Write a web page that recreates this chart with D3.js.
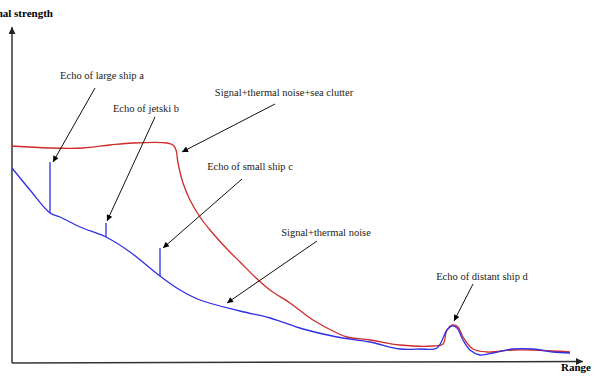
<!DOCTYPE html>
<html>
<head>
<meta charset="UTF-8">
<title>Radar echo</title>
<style>
  body { margin: 0; background: #fff; }
  text { font-family: "Liberation Serif", "DejaVu Serif", serif; }
</style>
</head>
<body>
<svg id="chart"></svg>
<script src="https://cdn.jsdelivr.net/npm/d3@7/dist/d3.min.js"></script>
<script>
const width = 600;
const height = 381;

// range (x) and signal strength (y)
const blueRange = [0, 18, 38, 48, 68, 94, 118, 148, 168, 188, 228, 258, 291, 325, 358, 388, 408, 425, 435, 440, 445, 451, 458, 468, 481, 501, 521, 541, 558];
const blueSignal = [195, 173, 150, 146, 136, 126, 111, 87, 73, 63, 52, 45, 34, 26, 21, 14, 14, 15, 33, 37, 35, 23, 13, 8, 10, 14, 14, 11, 10];

const redRange = [0, 38, 71, 98, 121, 155, 161, 164, 166, 171, 178, 188, 198, 215, 228, 243, 258, 278, 301, 325, 335, 358, 388, 421, 431, 435, 441, 446, 451, 461, 475, 501, 521, 558];
const redSignal = [217, 215, 215, 218, 220, 220, 218, 213, 200, 180, 163, 146, 133, 114, 101, 86, 73, 60, 43, 30, 26, 23, 18, 17, 19, 33, 38, 36, 26, 14, 11, 13, 13, 11];

// echo spikes on the thermal-noise curve
const spikeRange = [38, 94, 148];
const spikeTop = [201, 140, 115];

// annotations: label position and arrow from/to, in data units
const labels = [
    'Echo of large ship a',
    'Echo of jetski b',
    'Signal+thermal noise+sea clutter',
    'Echo of small ship c',
    'Signal+thermal noise',
    'Echo of distant ship d'
];
const labelX = [90, 134, 272, 238, 314, 470];
const labelY = [288, 255, 271, 197, 131, 87];
const arrowFrom = [[83, 275], [143, 246], [263, 259], [230, 184], [305, 122], [461, 79]];
const arrowTo = [[41, 201], [95, 142], [170, 211], [151, 115], [215, 60], [442, 42]];

const svg = d3.select('#chart')
    .attr('width', width)
    .attr('height', height);

const x = d3.scaleLinear().domain([0, 571]).range([12, 583]);
const y = d3.scaleLinear().domain([0, 336]).range([363, 27]);

const defs = svg.append('defs');
function marker(id, color, w, h) {
    defs.append('marker')
        .attr('id', id)
        .attr('viewBox', '0 0 10 10')
        .attr('refX', 10)
        .attr('refY', 5)
        .attr('markerUnits', 'userSpaceOnUse')
        .attr('markerWidth', w)
        .attr('markerHeight', h)
        .attr('orient', 'auto')
        .append('path')
        .attr('d', 'M0,0 L10,5 L0,10 z')
        .attr('fill', color);
}
marker('arr', '#000', 8, 6);
marker('axarr', '#222', 9, 7);

// axes
svg.append('line')
    .attr('x1', x(0)).attr('y1', y(0))
    .attr('x2', x(0)).attr('y2', y(336))
    .attr('stroke', '#333').attr('stroke-width', 1.5)
    .attr('marker-end', 'url(#axarr)');
svg.append('line')
    .attr('x1', x(0)).attr('y1', y(0))
    .attr('x2', x(571)).attr('y2', y(1.5))
    .attr('stroke', '#333').attr('stroke-width', 1.5)
    .attr('marker-end', 'url(#axarr)');

// the reference cuts this title at the left edge
svg.append('text')
    .attr('x', 53).attr('y', 17)
    .attr('text-anchor', 'end')
    .attr('font-size', 11).attr('font-weight', 'bold')
    .text('Signal strength');
svg.append('text')
    .attr('x', 591).attr('y', 371)
    .attr('text-anchor', 'end')
    .attr('font-size', 11).attr('font-weight', 'bold')
    .text('Range');

const line = d3.line()
    .x(d => x(d[0]))
    .y(d => y(d[1]))
    .curve(d3.curveCatmullRom.alpha(0.5));

svg.append('path')
    .datum(redRange.map((r, i) => [r, redSignal[i]]))
    .attr('d', line)
    .attr('fill', 'none')
    .attr('stroke', '#d02a2a')
    .attr('stroke-width', 1.3);

svg.append('path')
    .datum(blueRange.map((r, i) => [r, blueSignal[i]]))
    .attr('d', line)
    .attr('fill', 'none')
    .attr('stroke', '#2f2fe6')
    .attr('stroke-width', 1.3);

svg.selectAll('.spike')
    .data(spikeRange)
    .enter()
    .append('line')
    .attr('class', 'spike')
    .attr('x1', d => x(d))
    .attr('x2', d => x(d))
    .attr('y1', d => y(blueSignal[blueRange.indexOf(d)]))
    .attr('y2', (d, i) => y(spikeTop[i]))
    .attr('stroke', '#2f2fe6')
    .attr('stroke-width', 1.3);

// annotations
svg.selectAll('.arrow')
    .data(arrowFrom)
    .enter()
    .append('line')
    .attr('class', 'arrow')
    .attr('x1', d => x(d[0]))
    .attr('y1', d => y(d[1]))
    .attr('x2', (d, i) => x(arrowTo[i][0]))
    .attr('y2', (d, i) => y(arrowTo[i][1]))
    .attr('stroke', '#111')
    .attr('stroke-width', 1)
    .attr('marker-end', 'url(#arr)');

svg.selectAll('.label')
    .data(labels)
    .enter()
    .append('text')
    .attr('class', 'label')
    .attr('x', (d, i) => x(labelX[i]))
    .attr('y', (d, i) => y(labelY[i]))
    .attr('dy', '0.35em')
    .attr('text-anchor', 'middle')
    .attr('font-size', 10.5)
    .attr('fill', '#222')
    .text(d => d);
</script>
</body>
</html>
